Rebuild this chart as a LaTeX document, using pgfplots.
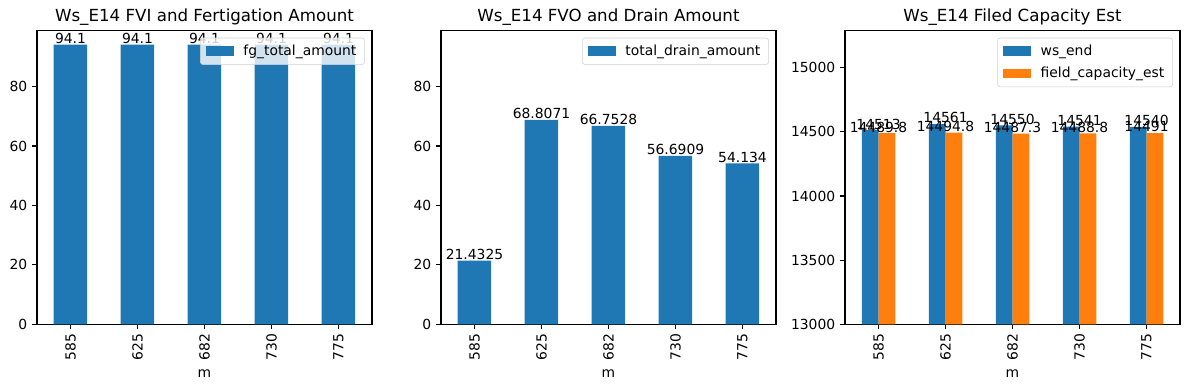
\documentclass[border=0pt]{standalone}
\usepackage{fontspec}
\setmainfont{DejaVu Sans}
\usepackage{pgfplots}
\pgfplotsset{compat=1.18}
\definecolor{C0}{HTML}{1F77B4}
\definecolor{C1}{HTML}{FF7F0E}
\pgfplotsset{
  mpl/.style={
    scale only axis,
    anchor=south west,
    width=241.2pt, height=211.4pt,
    xmin=-0.5, xmax=4.5,
    xtick={0,1,2,3,4},
    xticklabels={585,625,682,730,775},
    x tick label style={rotate=90, anchor=east},
    xlabel={m},
    tick align=outside,
    tick pos=left,
    major tick length=3.5pt,
    every tick/.style={black, line width=0.8pt},
    axis line style={line width=0.8pt},
    ticklabel style={font=\fontsize{10}{12}\selectfont},
    label style={font=\fontsize{10}{12}\selectfont},
    title style={font=\fontsize{12}{14}\selectfont, yshift=-6pt},
    /pgf/number format/assume math mode=true,
    /pgf/number format/1000 sep={},
    scaled y ticks=false,
    ybar,
    legend cell align=left,
    legend image code/.code={\path[#1, draw=none, sharp corners, fill opacity=1] (0pt,-3.5pt) rectangle (20pt,3.5pt); \path (0pt,0pt) (25pt,0pt);},
    legend style={at={(0.979,0.976)}, anchor=north east,
      draw=black!18, rounded corners=2pt, fill=white, fill opacity=0.8, text opacity=1,
      font=\fontsize{10}{12}\selectfont, inner xsep=4pt, inner ysep=3pt,
      row sep=3pt},
    nodes near coords={\pgfplotspointmeta},
    point meta=explicit symbolic,
    every node near coord/.style={font=\fontsize{10}{12}\selectfont, inner sep=0.5pt, black, anchor=south},
  }
}
\begin{document}
\begin{tikzpicture}
\useasboundingbox (0,0) rectangle (856.08pt,280.8pt);
\begin{axis}[mpl, at={(26.64pt,47.3pt)},
  ymin=0, ymax=98.805, ytick={0,20,40,60,80},
  title={Ws\_E14 FVI and Fertigation Amount}]
\addplot[fill=C0, draw=none, bar width=0.5] coordinates {
 (0,94.1)[94.1] (1,94.1)[94.1] (2,94.1)[94.1] (3,94.1)[94.1] (4,94.1)[94.1]};
\addlegendentry{fg\_total\_amount}
\end{axis}
\begin{axis}[mpl, at={(317.5pt,47.3pt)},
  ymin=0, ymax=98.805, ytick={0,20,40,60,80},
  title={Ws\_E14 FVO and Drain Amount}]
\addplot[fill=C0, draw=none, bar width=0.5] coordinates {
 (0,21.4325)[21.4325] (1,68.8071)[68.8071] (2,66.7528)[66.7528] (3,56.6909)[56.6909] (4,54.134)[54.134]};
\addlegendentry{total\_drain\_amount}
\end{axis}
\begin{axis}[mpl, at={(608.4pt,47.3pt)},
  ymin=13000, ymax=15289, ytick={13000,13500,14000,14500,15000},
  title={Ws\_E14 Filed Capacity Est}]
\addplot[fill=C0, draw=none, bar width=0.25, bar shift=-0.125] coordinates {
 (0,14513)[14513] (1,14561)[14561] (2,14550)[14550] (3,14541)[14541] (4,14540)[14540]};
\addlegendentry{ws\_end}
\addplot[fill=C1, draw=none, bar width=0.25, bar shift=0.125] coordinates {
 (0,14489.8)[14489.8] (1,14494.8)[14494.8] (2,14487.3)[14487.3] (3,14488.8)[14488.8] (4,14491)[14491]};
\addlegendentry{field\_capacity\_est}
\end{axis}
\end{tikzpicture}
\end{document}
